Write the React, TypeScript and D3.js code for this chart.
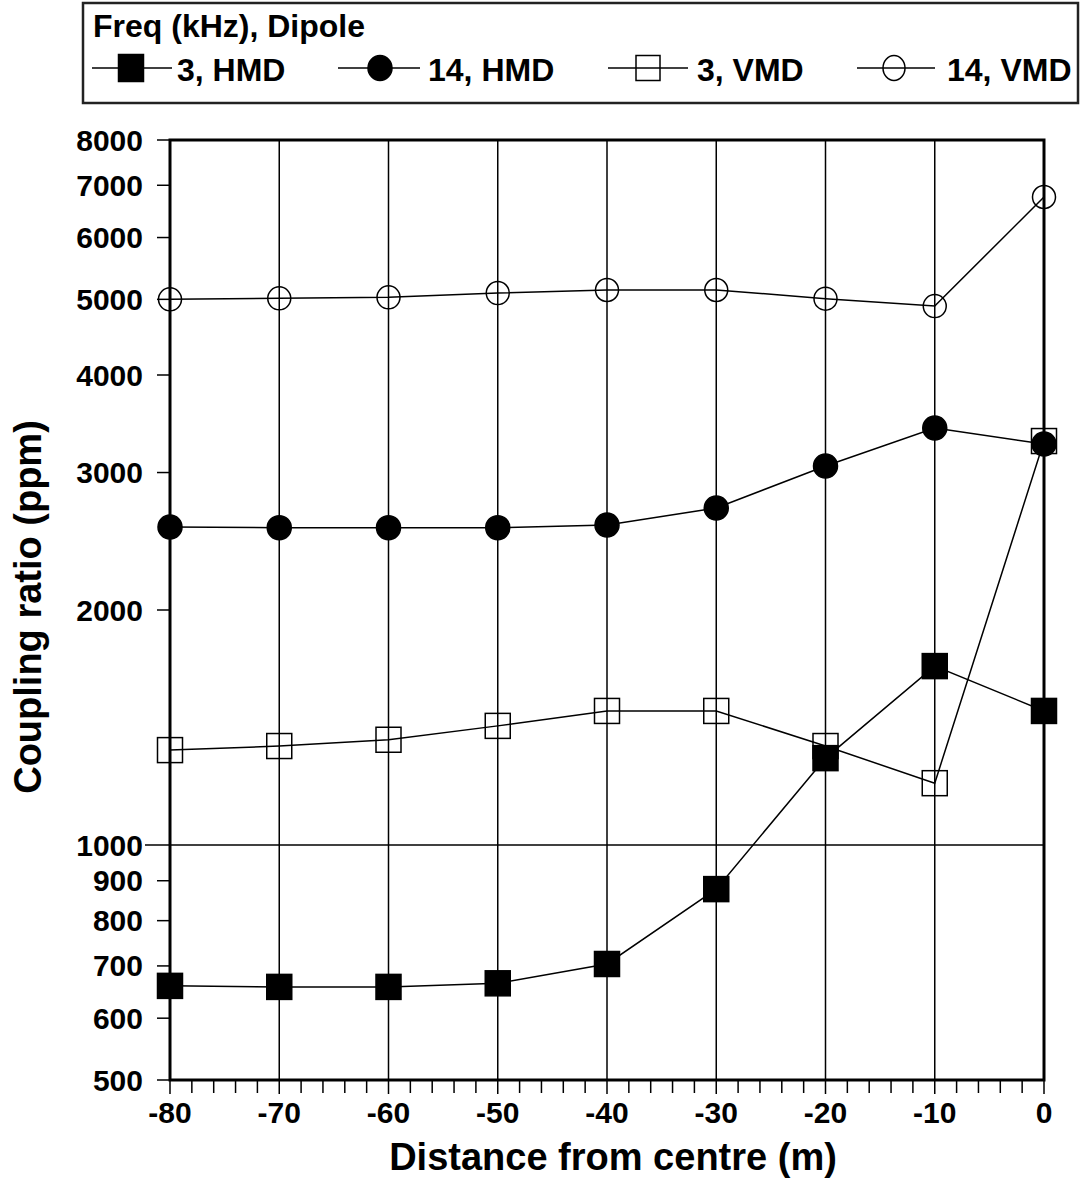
import React from 'react';
import * as d3 from 'd3';

// ---- Data ----
const distances = [-80, -70, -60, -50, -40, -30, -20, -10, 0];
const hmd3 = [660, 658, 658, 665, 704, 878, 1292, 1695, 1485];
const hmd14 = [2555, 2550, 2550, 2550, 2570, 2702, 3059, 3421, 3263];
const vmd3 = [1323, 1339, 1364, 1421, 1485, 1485, 1339, 1200, 3292];
const vmd14 = [5000, 5015, 5030, 5094, 5140, 5140, 5010, 4902, 6762];

const seriesNames = ['3, HMD', '14, HMD', '3, VMD', '14, VMD'];
const legendTitle = 'Freq (kHz), Dipole';
const xTitle = 'Distance from centre (m)';
const yTitle = 'Coupling ratio (ppm)';

const yTicks = [500, 600, 700, 800, 900, 1000, 2000, 3000, 4000, 5000, 6000, 7000, 8000];
const xTicks = [-80, -70, -60, -50, -40, -30, -20, -10, 0];
const xMinorTicks = [
  -78, -76, -74, -72, -68, -66, -64, -62, -58, -56, -54, -52, -48, -46, -44, -42,
  -38, -36, -34, -32, -28, -26, -24, -22, -18, -16, -14, -12, -8, -6, -4, -2,
];

const FONT = '"Liberation Sans", Arial, Helvetica, sans-serif';

type Marker = 'square' | 'circle';
const seriesDefs: { name: string; values: number[]; marker: Marker; filled: boolean }[] = [
  { name: seriesNames[0], values: hmd3, marker: 'square', filled: true },
  { name: seriesNames[1], values: hmd14, marker: 'circle', filled: true },
  { name: seriesNames[2], values: vmd3, marker: 'square', filled: false },
  { name: seriesNames[3], values: vmd14, marker: 'circle', filled: false },
];

const left = 170;
const right = 1044;
const top = 140;
const bottom = 1080;

function MarkerShape({ kind, filled, cx, cy, w = 24, h = 24 }: { kind: Marker; filled: boolean; cx: number; cy: number; w?: number; h?: number }) {
  const fill = filled ? '#000' : 'none';
  if (kind === 'square') {
    return <rect x={cx - w / 2} y={cy - h / 2} width={w} height={h} fill={fill} stroke="#000" strokeWidth={1.5} />;
  }
  return <ellipse cx={cx} cy={cy} rx={w / 2} ry={h / 2} fill={fill} stroke="#000" strokeWidth={1.5} />;
}

export default function App() {
  const x = d3.scaleLinear().domain([-80, 0]).range([left, right]);
  const y = d3.scaleLog().domain([500, 8000]).range([bottom, top]);
  const line = d3
    .line<number>()
    .x((_, i) => x(distances[i]))
    .y((v) => y(v));

  const legendItems = [
    { lx1: 92, lx2: 172, mx: 131, tx: 177, w: 25, h: 27 },
    { lx1: 338, lx2: 420, mx: 380, tx: 428, w: 24, h: 25 },
    { lx1: 608, lx2: 688, mx: 648, tx: 697, w: 24, h: 25 },
    { lx1: 857, lx2: 935, mx: 894, tx: 947, w: 22, h: 25 },
  ];

  return (
    <svg
      width={1081}
      height={1180}
      style={{ position: 'absolute', left: 0, top: 0, background: '#fff' }}
      fontFamily={FONT}
    >
      <rect x={0} y={0} width={1081} height={1180} fill="#fff" />

      {/* Legend */}
      <rect x={83} y={3} width={995} height={100} fill="#fff" stroke="#222" strokeWidth={2.5} />
      <text x={93} y={37} fontSize={32} fontWeight="bold" fill="#000">
        {legendTitle}
      </text>
      {seriesDefs.map((s, i) => {
        const it = legendItems[i];
        return (
          <g key={s.name}>
            <line x1={it.lx1} x2={it.lx2} y1={68} y2={68} stroke="#000" strokeWidth={1.5} />
            <MarkerShape kind={s.marker} filled={s.filled} cx={it.mx} cy={68} w={it.w} h={it.h} />
            <text x={it.tx} y={81} fontSize={32} fontWeight="bold" fill="#000">
              {s.name}
            </text>
          </g>
        );
      })}

      {/* Vertical gridlines (extend below axis as major ticks) */}
      {xTicks.map((t) => (
        <line key={'g' + t} x1={x(t)} x2={x(t)} y1={top} y2={1094} stroke="#000" strokeWidth={1.5} />
      ))}
      {/* Horizontal gridline at 1000 */}
      <line x1={145} x2={right} y1={y(1000)} y2={y(1000)} stroke="#000" strokeWidth={1.5} />

      {/* Minor x ticks */}
      {xMinorTicks.map((t) => (
        <line key={'m' + t} x1={x(t)} x2={x(t)} y1={bottom} y2={1093} stroke="#000" strokeWidth={1.5} />
      ))}

      {/* Y ticks */}
      {yTicks.map((t) => (
        <g key={'y' + t}>
          {t !== 1000 && <line x1={157} x2={left} y1={y(t)} y2={y(t)} stroke="#000" strokeWidth={1.5} />}
          <text x={143} y={y(t)} dy="0.35em" textAnchor="end" fontSize={30} fontWeight="bold" fill="#000">
            {t}
          </text>
        </g>
      ))}

      {/* X tick labels */}
      {xTicks.map((t) => (
        <text key={'xl' + t} x={x(t)} y={1123} textAnchor="middle" fontSize={30} fontWeight="bold" fill="#000">
          {t}
        </text>
      ))}

      {/* Frame */}
      <rect x={left} y={top} width={right - left} height={bottom - top} fill="none" stroke="#000" strokeWidth={3} />

      {/* Series lines */}
      {seriesDefs.map((s) => (
        <path key={'l' + s.name} d={line(s.values) || ''} fill="none" stroke="#000" strokeWidth={1.5} />
      ))}

      {/* Markers */}
      {seriesDefs.map((s) => (
        <g key={'p' + s.name}>
          {s.values.map((v, i) => (
            <MarkerShape
              key={i}
              kind={s.marker}
              filled={s.filled}
              cx={x(distances[i])}
              cy={y(v)}
              w={s.marker === 'square' ? 25 : s.filled ? 24 : 23}
              h={s.marker === 'square' ? 25 : s.filled ? 24 : 23}
            />
          ))}
        </g>
      ))}

      {/* Axis titles */}
      <text x={613} y={1170} textAnchor="middle" fontSize={38} fontWeight="bold" fill="#000">
        {xTitle}
      </text>
      <text
        transform={`translate(41, 607) rotate(-90)`}
        textAnchor="middle"
        fontSize={38}
        fontWeight="bold"
        fill="#000"
      >
        {yTitle}
      </text>
    </svg>
  );
}
